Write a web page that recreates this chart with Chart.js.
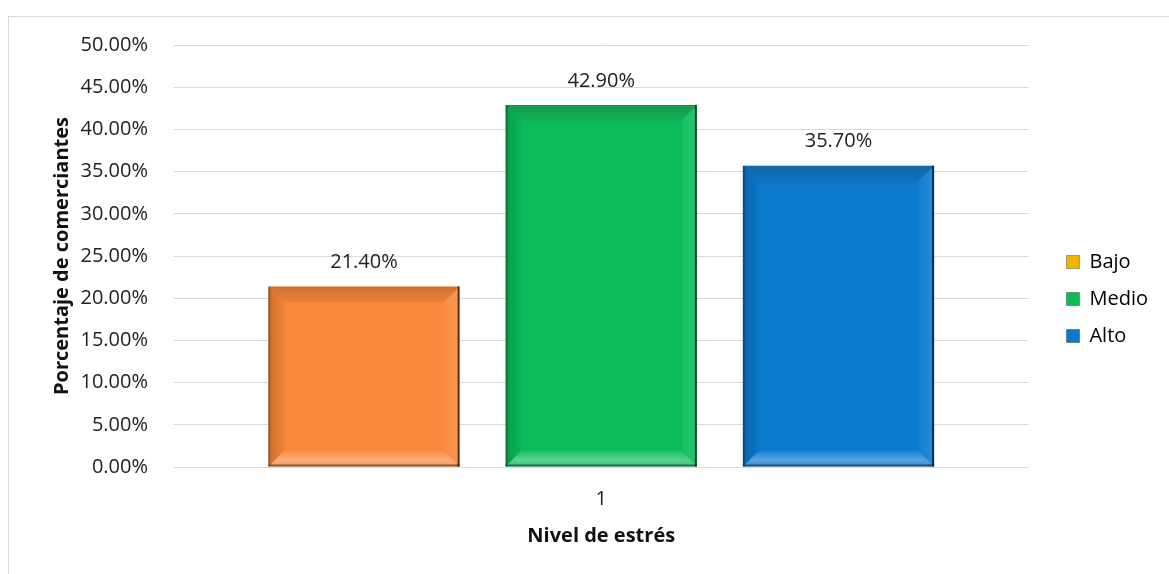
<!DOCTYPE html>
<html>
<head>
<meta charset="utf-8">
<script src="https://cdn.jsdelivr.net/npm/chart.js@4.4.0/dist/chart.umd.min.js"></script>
<style>
  body { margin: 0; background: #fff; }
  #box {
    position: absolute; left: 8px; top: 16px;
    width: 1200px; height: 600px;
    border: 1px solid #d9d9d9;
  }
  #wrap { position: absolute; left: 0; top: 0; width: 1161px; height: 558px; }
</style>
</head>
<body>
<div id="box"><div id="wrap"><canvas id="myStressChart"></canvas></div></div>
<script>
// datos
const categorias = ['1'];
const niveles = ['Bajo', 'Medio', 'Alto'];
const valoresBajo = [21.4];
const valoresMedio = [42.9];
const valoresAlto = [35.7];
const yTicks = [0, 5, 10, 15, 20, 25, 30, 35, 40, 45, 50];

const colores = ['#f9883b', '#0abd59', '#0a79ce'];
const coloresLeyenda = ['#f0b400', '#0abd59', '#0a79ce'];

const FUENTE = "'Open Sans', sans-serif";

// bisel tipo Excel encima de cada barra
const biselPlugin = {
  id: 'bisel',
  afterDatasetsDraw(chart) {
    const ctx = chart.ctx;
    chart.data.datasets.forEach((ds, i) => {
      const meta = chart.getDatasetMeta(i);
      meta.data.forEach(bar => {
        const l = bar.x - bar.width / 2, r = bar.x + bar.width / 2;
        const t = bar.y, b = bar.base;
        const s = 16;
        ctx.save();
        // arriba (mas oscuro)
        let g = ctx.createLinearGradient(0, t, 0, t + s);
        g.addColorStop(0, 'rgba(60,40,20,0.24)');
        g.addColorStop(1, 'rgba(60,40,20,0.06)');
        ctx.fillStyle = g;
        ctx.beginPath();
        ctx.moveTo(l, t); ctx.lineTo(r, t); ctx.lineTo(r - s, t + s); ctx.lineTo(l + s, t + s);
        ctx.closePath(); ctx.fill();
        // abajo (mas claro)
        g = ctx.createLinearGradient(0, b - s, 0, b);
        g.addColorStop(0, 'rgba(255,255,255,0.05)');
        g.addColorStop(0.6, 'rgba(255,255,255,0.32)');
        g.addColorStop(1, 'rgba(255,255,255,0.15)');
        ctx.fillStyle = g;
        ctx.beginPath();
        ctx.moveTo(l, b); ctx.lineTo(r, b); ctx.lineTo(r - s, b - s); ctx.lineTo(l + s, b - s);
        ctx.closePath(); ctx.fill();
        // izquierda
        g = ctx.createLinearGradient(l, 0, l + s, 0);
        g.addColorStop(0, 'rgba(0,0,0,0.18)');
        g.addColorStop(1, 'rgba(0,0,0,0.03)');
        ctx.fillStyle = g;
        ctx.beginPath();
        ctx.moveTo(l, t); ctx.lineTo(l + s, t + s); ctx.lineTo(l + s, b - s); ctx.lineTo(l, b);
        ctx.closePath(); ctx.fill();
        // derecha
        g = ctx.createLinearGradient(r - s, 0, r, 0);
        g.addColorStop(0, 'rgba(255,255,255,0.04)');
        g.addColorStop(1, 'rgba(255,255,255,0.12)');
        ctx.fillStyle = g;
        ctx.beginPath();
        ctx.moveTo(r, t); ctx.lineTo(r - s, t + s); ctx.lineTo(r - s, b - s); ctx.lineTo(r, b);
        ctx.closePath(); ctx.fill();
        // borde oscuro derecha y abajo
        ctx.fillStyle = 'rgba(0,0,0,0.65)';
        ctx.fillRect(r - 2, t, 2, b - t);
        ctx.fillStyle = 'rgba(0,0,0,0.45)';
        ctx.fillRect(l, b - 2, r - l, 2);
        ctx.fillStyle = 'rgba(0,0,0,0.25)';
        ctx.fillRect(l, t, 2, b - t);
        ctx.restore();
      });
    });
  }
};

// etiquetas de valores
const etiquetasPlugin = {
  id: 'etiquetas',
  afterDatasetsDraw(chart) {
    const ctx = chart.ctx;
    ctx.save();
    ctx.font = '20px ' + FUENTE;
    ctx.fillStyle = '#222';
    ctx.textAlign = 'center';
    ctx.textBaseline = 'middle';
    chart.data.datasets.forEach((ds, i) => {
      chart.getDatasetMeta(i).data.forEach((bar, j) => {
        ctx.fillText(ds.data[j].toFixed(2) + '%', bar.x, bar.y - 24);
      });
    });
    ctx.restore();
  }
};

const series = [valoresBajo, valoresMedio, valoresAlto];

const data = {
  labels: categorias,
  datasets: niveles.map((n, i) => ({
    label: n,
    data: series[i],
    backgroundColor: colores[i],
    borderWidth: 0,
    categoryPercentage: 0.833,
    barPercentage: 0.806
  }))
};

const config = {
  type: 'bar',
  data: data,
  options: {
    responsive: true,
    maintainAspectRatio: false,
    animation: false,
    layout: { padding: { top: 28, right: 12, bottom: 22, left: 37 } },
    plugins: {
      legend: {
        position: 'right',
        align: 'center',
        labels: {
          font: { family: FUENTE, size: 20 },
          color: '#222',
          boxWidth: 13,
          boxHeight: 13,
          padding: 17,
          generateLabels(chart) {
            return niveles.map((n, i) => ({
              text: n,
              fillStyle: coloresLeyenda[i],
              strokeStyle: 'rgba(0,0,0,0.3)',
              lineWidth: 1,
              datasetIndex: i
            }));
          }
        }
      },
      tooltip: { enabled: false }
    },
    scales: {
      x: {
        grid: { display: false },
        border: { color: '#d9d9d9' },
        ticks: { font: { family: FUENTE, size: 20 }, color: '#222', padding: 12 },
        title: {
          display: true,
          text: 'Nivel de estrés',
          font: { family: FUENTE, size: 20, weight: 'bold' },
          color: '#111',
          padding: { top: 10, bottom: 5 }
        },
        afterFit(scale) { scale.height = 86; }
      },
      y: {
        min: 0,
        max: 50,
        afterBuildTicks(axis) { axis.ticks = yTicks.map(v => ({ value: v })); },
        grid: { color: '#d9d9d9', drawTicks: false },
        border: { display: false },
        ticks: {
          font: { family: FUENTE, size: 20 },
          color: '#222',
          padding: 26,
          callback: v => v.toFixed(2) + '%'
        },
        title: {
          display: true,
          text: 'Porcentaje de comerciantes',
          font: { family: FUENTE, size: 20, weight: 'bold' },
          color: '#111',
          padding: { top: 4, bottom: 4 }
        },
        afterFit(scale) {
          scale.width = 128;
          scale.paddingTop = 0;
          scale.paddingBottom = 0;
        }
      },
      // eje vacio solo para separar la leyenda
      hueco: {
        position: 'right',
        display: true,
        grid: { display: false },
        border: { display: false },
        ticks: { display: false },
        afterFit(scale) {
          scale.width = 21;
          scale.paddingTop = 0;
          scale.paddingBottom = 0;
        }
      }
    }
  },
  plugins: [biselPlugin, etiquetasPlugin]
};

const myStressChart = new Chart(document.querySelector('#myStressChart'), config);
</script>
</body>
</html>
